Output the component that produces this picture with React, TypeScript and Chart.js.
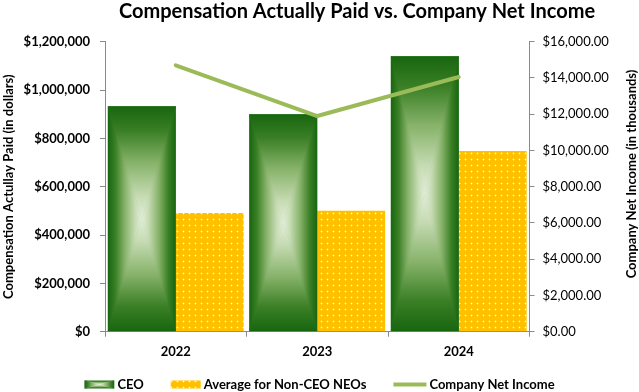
import React, { useEffect, useRef } from 'react';
import { Chart, registerables } from 'chart.js';

Chart.register(...registerables);

const years = ['2022', '2023', '2024'];
const ceoPay = [933000, 900000, 1140000];
const neoAvgPay = [491000, 500000, 748000];
const netIncome = [14700, 11900, 14050];
const payTickLabels = ['$0', '$200,000', '$400,000', '$600,000', '$800,000', '$1,000,000', '$1,200,000'];
const incomeTickLabels = ['$0.00', '$2,000.00', '$4,000.00', '$6,000.00', '$8,000.00', '$10,000.00', '$12,000.00', '$14,000.00', '$16,000.00'];
const seriesNames = ['CEO', 'Average for Non-CEO NEOs', 'Company Net Income'];
const chartTitle = 'Compensation Actually Paid vs. Company Net Income';
const leftAxisTitle = 'Compensation Actullay Paid (in dollars)';
const rightAxisTitle = 'Company Net Income (in thousands)';

const FONT = 'Lato, "DejaVu Sans", sans-serif';
const LINE_COLOR = '#9bbb59';
const AXIS_COLOR = '#8a8a8a';
const GREEN_STOPS: [number, string][] = [
  [0, '#17660f'],
  [0.22, '#3a7f25'],
  [0.5, '#86b269'],
  [0.8, '#c6dbb3'],
  [1, '#e2eed9'],
];

function fillRectGradient(ctx: CanvasRenderingContext2D, x0: number, y0: number, x1: number, y1: number) {
  const cx = (x0 + x1) / 2;
  const cy = (y0 + y1) / 2;
  const parts: { pts: number[][]; g: number[] }[] = [
    { pts: [[x0, y0], [x1, y0], [cx, cy]], g: [cx, y0, cx, cy] },
    { pts: [[x0, y1], [x1, y1], [cx, cy]], g: [cx, y1, cx, cy] },
    { pts: [[x0, y0], [x0, y1], [cx, cy]], g: [x0, cy, cx, cy] },
    { pts: [[x1, y0], [x1, y1], [cx, cy]], g: [x1, cy, cx, cy] },
  ];
  ctx.save();
  ctx.beginPath();
  ctx.rect(x0, y0, x1 - x0, y1 - y0);
  ctx.clip();
  for (const p of parts) {
    const grad = ctx.createLinearGradient(p.g[0], p.g[1], p.g[2], p.g[3]);
    for (const [o, c] of GREEN_STOPS) grad.addColorStop(o, c);
    ctx.fillStyle = grad;
    ctx.beginPath();
    ctx.moveTo(p.pts[0][0], p.pts[0][1]);
    ctx.lineTo(p.pts[1][0], p.pts[1][1]);
    ctx.lineTo(p.pts[2][0], p.pts[2][1]);
    ctx.closePath();
    ctx.fill();
    ctx.strokeStyle = grad;
    ctx.lineWidth = 0.6;
    ctx.stroke();
  }
  ctx.restore();
}

function makeDotPattern(): CanvasPattern | string {
  const c = document.createElement('canvas');
  c.width = 6;
  c.height = 6;
  const g = c.getContext('2d');
  if (!g) return '#FFC000';
  g.fillStyle = '#FFC000';
  g.fillRect(0, 0, 6, 6);
  g.fillStyle = 'rgba(255,255,255,0.3)';
  g.fillRect(2, 3, 3, 1);
  g.fillRect(3, 2, 1, 3);
  g.fillStyle = 'rgba(255,255,255,0.75)';
  g.fillRect(3, 3, 1, 1);
  return g.createPattern(c, 'repeat') || '#FFC000';
}

export default function App() {
  const canvasRef = useRef<HTMLCanvasElement | null>(null);

  useEffect(() => {
    const canvas = canvasRef.current;
    if (!canvas) return;
    const dotPattern = makeDotPattern();

    const decorPlugin = {
      id: 'decor',
      afterDatasetDraw(chart: any, args: any) {
        if (args.index !== 0) return;
        const meta = chart.getDatasetMeta(0);
        const ctx: CanvasRenderingContext2D = chart.ctx;
        meta.data.forEach((el: any) => {
          const { x, y, base, width } = el.getProps(['x', 'y', 'base', 'width'], true);
          fillRectGradient(ctx, x - width / 2, Math.min(y, base), x + width / 2, Math.max(y, base));
        });
      },
      afterDraw(chart: any) {
        const ctx: CanvasRenderingContext2D = chart.ctx;
        ctx.save();
        // title
        ctx.fillStyle = '#000';
        ctx.font = `bold 20px ${FONT}`;
        ctx.textAlign = 'center';
        ctx.textBaseline = 'alphabetic';
        ctx.fillText(chartTitle, 357, 18, 482);
        // right axis title (reads bottom to top)
        ctx.save();
        ctx.translate(632, 174);
        ctx.rotate(-Math.PI / 2);
        ctx.font = `bold 13px ${FONT}`;
        ctx.textBaseline = 'middle';
        ctx.fillText(rightAxisTitle, 0, 0);
        ctx.restore();
        // legend
        ctx.font = `bold 13px ${FONT}`;
        const swW = [30, 30, 33];
        const textGap = 3;
        const itemGap = 27;
        const widths = seriesNames.map((n, i) => swW[i] + textGap + ctx.measureText(n).width);
        const total = widths.reduce((a, b) => a + b, 0) + itemGap * (seriesNames.length - 1);
        let x = chart.width / 2 - total / 2;
        const cy = 384.5;
        seriesNames.forEach((name, i) => {
          if (i === 0) {
            fillRectGradient(ctx, x, cy - 4, x + swW[i], cy + 4);
          } else if (i === 1) {
            ctx.fillStyle = dotPattern as any;
            ctx.fillRect(x, cy - 4, swW[i], 8);
          } else {
            ctx.strokeStyle = LINE_COLOR;
            ctx.lineWidth = 4;
            ctx.beginPath();
            ctx.moveTo(x, cy);
            ctx.lineTo(x + swW[i], cy);
            ctx.stroke();
          }
          ctx.fillStyle = '#000';
          ctx.textAlign = 'left';
          ctx.textBaseline = 'middle';
          ctx.fillText(name, x + swW[i] + textGap, cy);
          x += widths[i] + itemGap;
        });
        ctx.restore();
      },
    };

    const chart = new Chart(canvas, {
      type: 'bar',
      data: {
        labels: years,
        datasets: [
          {
            type: 'bar',
            label: seriesNames[0],
            data: ceoPay,
            backgroundColor: '#2e7d22',
            yAxisID: 'y',
            order: 1,
            barPercentage: 1,
            categoryPercentage: 0.96,
          },
          {
            type: 'bar',
            label: seriesNames[1],
            data: neoAvgPay,
            backgroundColor: dotPattern as any,
            yAxisID: 'y',
            order: 1,
            barPercentage: 1,
            categoryPercentage: 0.96,
          },
          {
            type: 'line',
            label: seriesNames[2],
            data: netIncome,
            borderColor: LINE_COLOR,
            backgroundColor: LINE_COLOR,
            borderWidth: 4,
            pointRadius: 0,
            pointHoverRadius: 0,
            tension: 0,
            borderCapStyle: 'round',
            borderJoinStyle: 'round',
            yAxisID: 'y1',
            order: 0,
          } as any,
        ],
      },
      options: {
        responsive: false,
        devicePixelRatio: 1,
        animation: false,
        layout: { padding: { top: 41.7, bottom: 0, left: 0, right: 0 } },
        plugins: {
          legend: { display: false },
          title: { display: false },
          tooltip: { enabled: false },
        },
        scales: {
          x: {
            grid: { display: true, drawOnChartArea: false, drawTicks: true, tickLength: 5, color: AXIS_COLOR },
            border: { display: true, color: AXIS_COLOR, width: 1 },
            ticks: { color: '#000', font: { family: FONT, size: 13, weight: 'bold' }, padding: 7 },
            afterFit: (s: any) => { s.height = 392 - 331.7; },
          },
          y: {
            position: 'left',
            min: 0,
            max: 1200000,
            grid: { display: true, drawOnChartArea: false, drawTicks: true, tickLength: 5, color: AXIS_COLOR },
            border: { display: true, color: AXIS_COLOR, width: 1 },
            ticks: {
              stepSize: 200000,
              color: '#000',
              padding: 10,
              font: { family: FONT, size: 13, weight: 'bold' },
              callback: (_v: any, i: number) => payTickLabels[i],
            },
            title: {
              display: true,
              text: leftAxisTitle,
              color: '#000',
              font: { family: FONT, size: 13, weight: 'bold' },
              padding: { top: 1, bottom: 0 },
            },
            afterFit: (s: any) => { s.width = 105; },
          },
          y1: {
            position: 'right',
            min: 0,
            max: 16000,
            grid: { display: true, drawOnChartArea: false, drawTicks: true, tickLength: 5, color: AXIS_COLOR },
            border: { display: true, color: AXIS_COLOR, width: 1 },
            ticks: {
              stepSize: 2000,
              color: '#000',
              padding: 8,
              font: { family: FONT, size: 13 },
              callback: (_v: any, i: number) => incomeTickLabels[i],
            },
            afterFit: (s: any) => { s.width = 109.5; },
          },
        },
      } as any,
      plugins: [decorPlugin as any],
    });

    return () => chart.destroy();
  }, []);

  return (
    <div style={{ position: 'fixed', left: 0, top: 0, width: 639, height: 392, background: '#fff' }}>
      <canvas ref={canvasRef} width={639} height={392} style={{ display: 'block' }} />
    </div>
  );
}
